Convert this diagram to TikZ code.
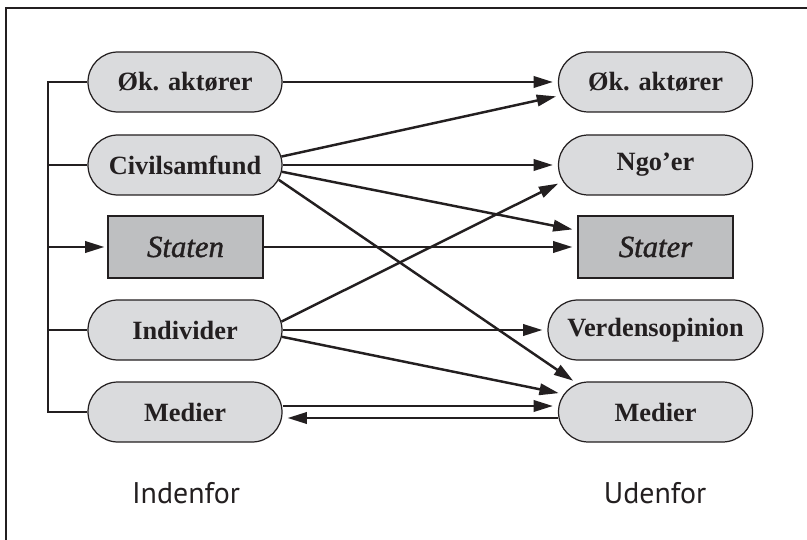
\documentclass[tikz,border=0pt]{standalone}
\usepackage{fontspec}
\setmainfont{Liberation Serif}
\newfontfamily\sidefont{PT Sans}
\newfontfamily\statefont{Liberation Serif}[FakeBold=1.2]
\usetikzlibrary{shapes.misc,arrows.meta}
\definecolor{pillgray}{RGB}{218,219,221}
\definecolor{boxgray}{RGB}{190,191,193}
\definecolor{ink}{RGB}{35,31,32}
\begin{document}
\begin{tikzpicture}[
  actor/.style={rounded rectangle,draw=ink,line width=0.7pt,fill=pillgray,minimum width=3.88cm,minimum height=1.2cm,inner sep=0pt,font=\fontsize{15}{18}\selectfont\bfseries,text=ink},
  statebox/.style={rectangle,draw=ink,line width=0.7pt,fill=boxgray,minimum width=3.1cm,minimum height=1.24cm,inner sep=0pt,font=\statefont\fontsize{17.5}{20}\selectfont\itshape,text=ink},
  link/.style={draw=ink,line width=1.4pt,-{Triangle[length=11pt,width=6.5pt]},shorten >=0.1cm},
  plain/.style={draw=ink,line width=1.4pt},
  side/.style={font=\sidefont\fontsize{17}{20}\selectfont,text=ink}]
\useasboundingbox (0,0) rectangle (16.14,-10.8);
\draw[ink,line width=0.9pt] (0.12,-10.9) -- (0.12,-0.16) -- (16.3,-0.16);
\node[actor] (okL) at (3.7,-1.64) {Øk. aktører};
\node[actor] (civL) at (3.7,-3.3) {Civilsamfund};
\node[statebox] (staten) at (3.71,-4.94) {Staten};
\node[actor] (indL) at (3.7,-6.6) {Individer};
\node[actor] (medL) at (3.7,-8.24) {Medier};
\node[actor] (okR) at (13.11,-1.64) {Øk. aktører};
\node[actor] (ngoR) at (13.11,-3.3) {Ngo’er};
\node[statebox] (stater) at (13.11,-4.94) {Stater};
\node[actor,minimum width=4.3cm] (verdR) at (13.11,-6.6) {Verdensopinion};
\node[actor] (medR) at (13.11,-8.24) {Medier};
\node[side] (inde) at (3.72,-9.86) {Indenfor};
\node[side] (ude) at (13.1,-9.86) {Udenfor};
\coordinate (bus) at (0.96,0);
\draw[plain] (okL.west) -| (bus |- medL.west) -- (medL.west);
\draw[plain] (bus |- civL.west) -- (civL.west);
\draw[plain] (bus |- indL.west) -- (indL.west);
\draw[link,shorten >=0.06cm] (bus |- staten.west) -- (staten.west);
\draw[link] (okL.east) -- (okR.west);
\draw[link] (civL.5) -- (okR.188);
\draw[link] (civL.east) -- (ngoR.west);
\draw[link] (civL.-4) -- (stater.168);
\draw[link] (civL.-9) -- (medR.160);
\draw[link] (staten.east) -- (stater.west);
\draw[link] (indL.5) -- (ngoR.190);
\draw[link] (indL.east) -- (verdR.west);
\draw[link] (indL.-4) -- (medR.169);
\draw[link] ([yshift=0.12cm]medL.east) -- ([yshift=0.12cm]medR.west);
\draw[link] ([yshift=-0.12cm]medR.west) -- ([yshift=-0.12cm]medL.east);
\end{tikzpicture}
\end{document}
